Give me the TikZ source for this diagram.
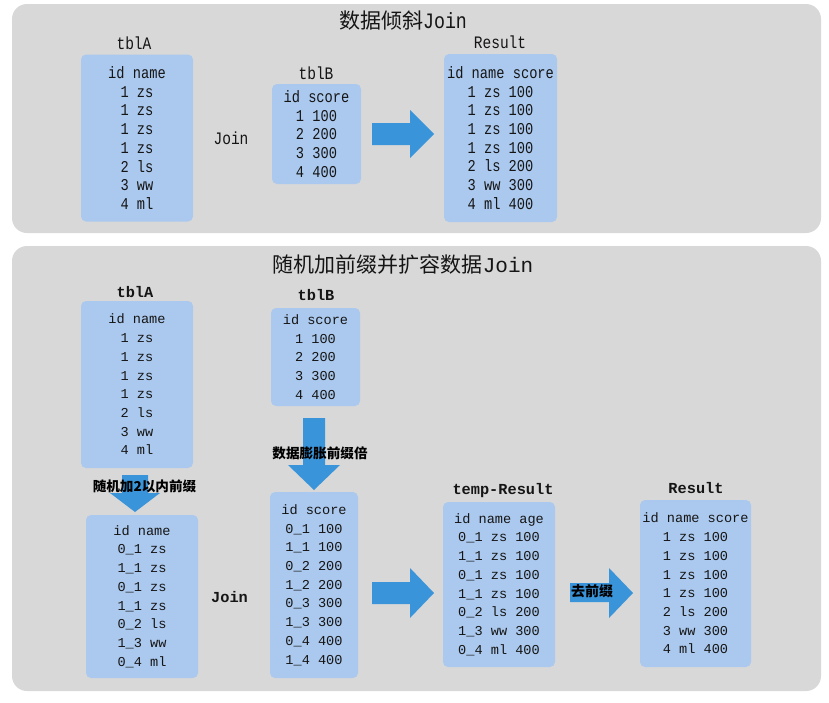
\documentclass[tikz,border=0pt]{standalone}
\usepackage{fontspec}
\newfontfamily\cjk{Noto Sans CJK SC}
\newfontfamily\mono{Liberation Mono}
\newfontfamily\cmono[FakeStretch=0.83]{Liberation Mono}
\definecolor{panelgray}{HTML}{D8D8D8}
\definecolor{boxblue}{HTML}{ABC9EE}
\definecolor{arrowblue}{HTML}{3A94DA}
\definecolor{txt}{HTML}{151515}
\tikzset{
  panel/.style={fill=panelgray, rounded corners=15pt},
  tbl/.style={fill=boxblue, rounded corners=5pt, inner sep=0pt, align=center, text=txt},
  toptbl/.style={tbl, font={\cmono\fontsize{16.5}{18.7}\selectfont}},
  bottbl/.style={tbl, font={\mono\fontsize{13.6}{18.7}\selectfont}},
  toplbl/.style={text=txt, inner sep=0pt, font={\cmono\fontsize{17.5}{18}\selectfont}},
  botlbl/.style={text=txt, inner sep=0pt, font={\mono\bfseries\fontsize{15.3}{18}\selectfont}},
  title/.style={text=txt, inner sep=0pt, font={\fontsize{21}{25}\selectfont}},
  cnlbl/.style={text=black, inner sep=0pt, font={\cjk\bfseries\fontsize{13.6}{16}\selectfont}},
  blockarrow/.style={fill=arrowblue},
}
\begin{document}
\begin{tikzpicture}[x=1pt, y=-1pt]
\useasboundingbox (0,0) rectangle (829,702);
\fill[white] (0,0) rectangle (829,702);
% panels
\fill[panel] (12,4) rectangle (821,233);
\fill[panel] (12,246) rectangle (821,691);

% ---------- top panel ----------
\node[title] (t1) at (403,20.5) {{\cjk 数据倾斜}{\cmono\fontsize{22}{25}\selectfont Join}};
\node[toplbl] (lA1) at (134,43) {tblA};
\node[toptbl, minimum width=112, minimum height=167] (A1) at (137,138)
  {id name\\1 zs\\1 zs\\1 zs\\1 zs\\2 ls\\3 ww\\4 ml};
\node[toplbl] (j1) at (231,138) {Join};
\node[toplbl] (lB1) at (316,73) {tblB};
\node[toptbl, minimum width=89, minimum height=100] (B1) at (316.5,134)
  {id score\\1 100\\2 200\\3 300\\4 400};
\fill[blockarrow] (372,123) -- (410,123) -- (410,110) -- (434,134) -- (410,158) -- (410,145) -- (372,145) -- cycle;
\node[toplbl] (lR1) at (500,42) {Result};
\node[toptbl, minimum width=113, minimum height=168] (R1) at (500.5,138)
  {id name score\\1 zs 100\\1 zs 100\\1 zs 100\\1 zs 100\\2 ls 200\\3 ww 300\\4 ml 400};

% ---------- bottom panel ----------
\node[title] (t2) at (403,265) {{\cjk 随机加前缀并扩容数据}{\mono Join}};
\node[botlbl] (lA2) at (135,292) {tblA};
\node[bottbl, minimum width=112, minimum height=167] (A2) at (137,384.5)
  {id name\\1 zs\\1 zs\\1 zs\\1 zs\\2 ls\\3 ww\\4 ml};
\node[botlbl] (lB2) at (316,295) {tblB};
\node[bottbl, minimum width=89, minimum height=98] (B2) at (315.5,357)
  {id score\\1 100\\2 200\\3 300\\4 400};

% down arrows
\fill[blockarrow] (122,475) -- (148,475) -- (148,493) -- (160,493) -- (135,512) -- (110,493) -- (122,493) -- cycle;
\node[cnlbl] (c1) at (144.5,486) {随机加2以内前缀};
\fill[blockarrow] (303,418) -- (325,418) -- (325,465) -- (340,465) -- (314,490) -- (288,465) -- (303,465) -- cycle;
\node[cnlbl] (c2) at (320,453) {数据膨胀前缀倍};

\node[bottbl, minimum width=112, minimum height=163] (A3) at (142,596.5)
  {id name\\0\_1 zs\\1\_1 zs\\0\_1 zs\\1\_1 zs\\0\_2 ls\\1\_3 ww\\0\_4 ml};
\node[botlbl] (j2) at (229.5,597) {Join};
\node[bottbl, minimum width=88, minimum height=186] (B3) at (314,585)
  {id score\\0\_1 100\\1\_1 100\\0\_2 200\\1\_2 200\\0\_3 300\\1\_3 300\\0\_4 400\\1\_4 400};

\fill[blockarrow] (372,582) -- (410,582) -- (410,568) -- (434,593) -- (410,618) -- (410,604) -- (372,604) -- cycle;

\node[botlbl] (lT) at (503,491) {temp-Result};
\node[bottbl, minimum width=112, minimum height=165] (T) at (499,584.5)
  {id name age\\0\_1 zs 100\\1\_1 zs 100\\0\_1 zs 100\\1\_1 zs 100\\0\_2 ls 200\\1\_3 ww 300\\0\_4 ml 400};

\fill[blockarrow] (570,583) -- (609,583) -- (609,568) -- (633,593) -- (609,618) -- (609,602) -- (570,602) -- cycle;
\node[cnlbl, font={\cjk\bfseries\fontsize{14}{16}\selectfont}] (c3) at (592,591) {去前缀};

\node[botlbl] (lR2) at (696,488) {Result};
\node[bottbl, minimum width=111, minimum height=167] (R2) at (695.5,583.5)
  {id name score\\1 zs 100\\1 zs 100\\1 zs 100\\1 zs 100\\2 ls 200\\3 ww 300\\4 ml 400};
\end{tikzpicture}
\end{document}
